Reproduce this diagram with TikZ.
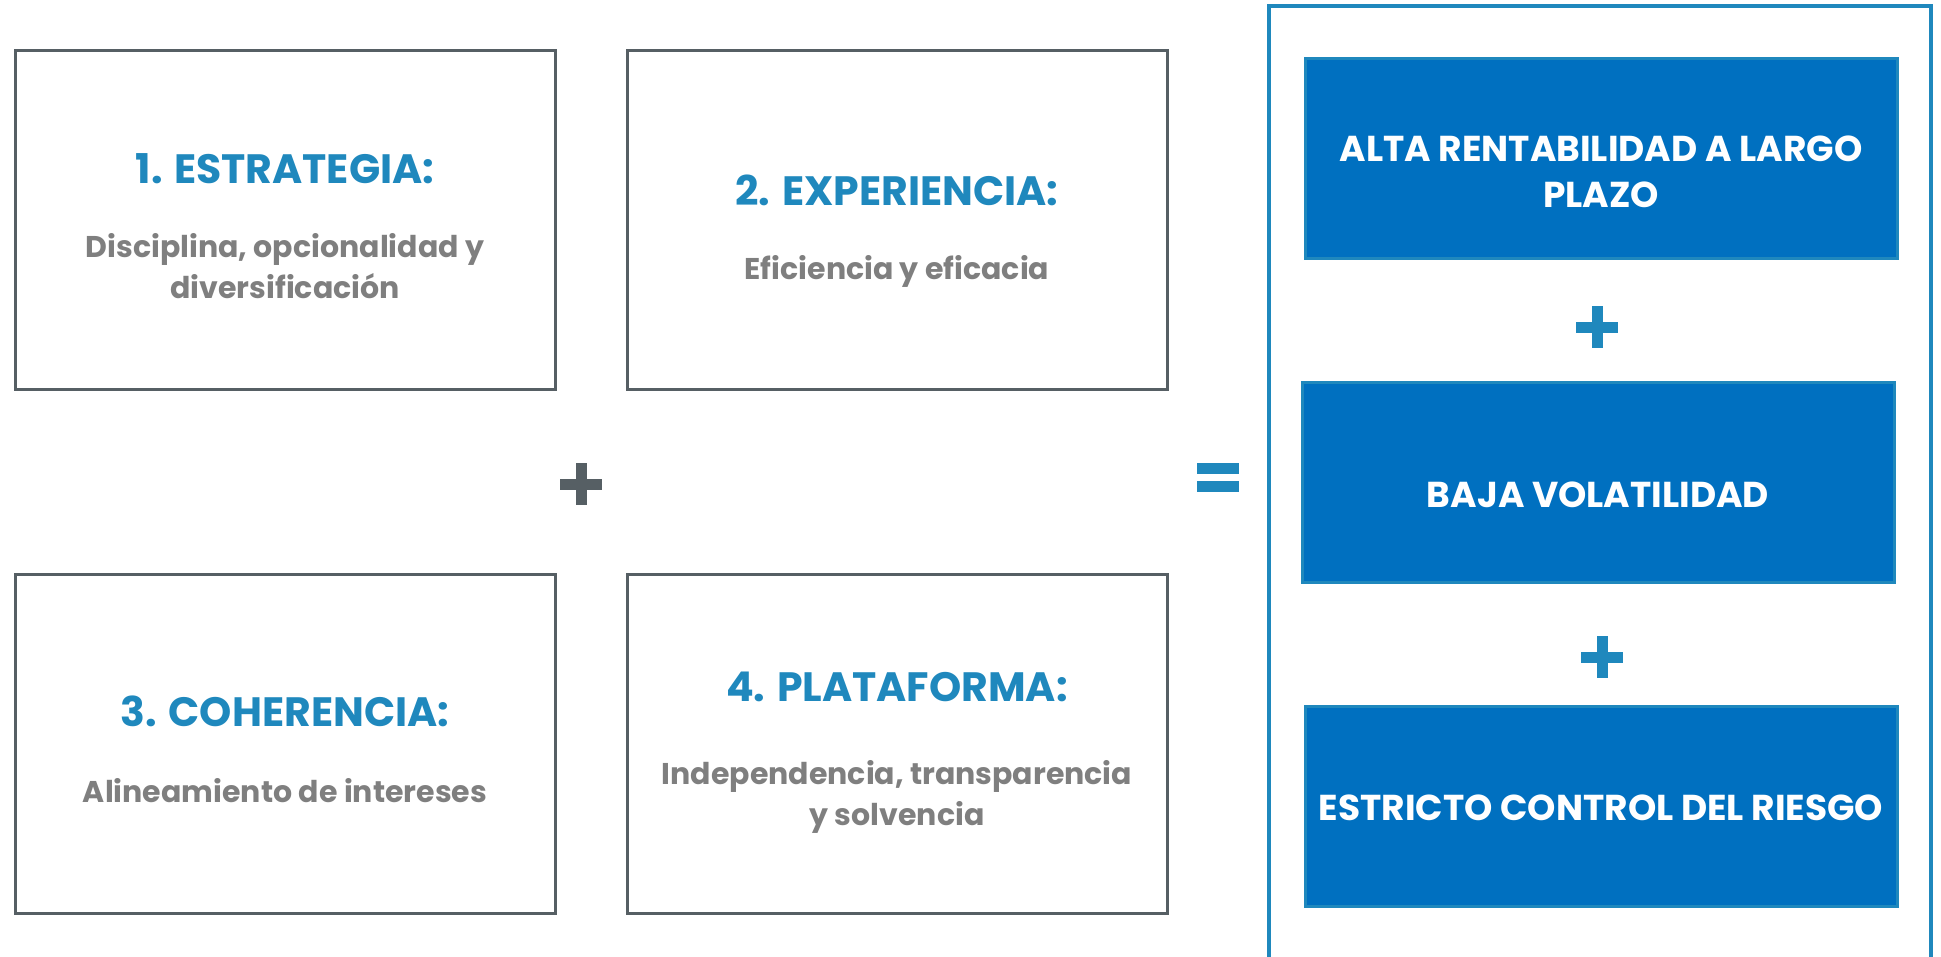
\documentclass[tikz,border=0pt]{standalone}
\usepackage{fontspec}
\setmainfont{Poppins}
\usepackage{tikz}
\usetikzlibrary{positioning}

\definecolor{ttlblue}{HTML}{1F88BD}
\definecolor{subgray}{HTML}{7F7F7F}
\definecolor{edgegray}{HTML}{565F64}
\definecolor{resblue}{HTML}{0070C0}

\begin{document}
\begin{tikzpicture}[x=1pt, y=-1pt,
  cell/.style={draw=edgegray, line width=3pt, minimum width=540pt,
               minimum height=339pt, inner sep=0pt},
  txt/.style={align=center, text=subgray, inner sep=0pt,
              font=\fontsize{30}{41}\selectfont\bfseries},
  res/.style={draw=ttlblue, fill=resblue, line width=3pt, minimum width=592pt,
              minimum height=200pt},
  restxt/.style={align=center, text=white, inner sep=0pt,
                 font=\fontsize{36}{46}\selectfont\bfseries},
  sgn/.style={line width=11pt}
]
\useasboundingbox (0,0) rectangle (1941,956);
% Factor boxes
\node[cell] (c1) at (285,220) {};
\node[cell] (c2) at (897,220) {};
\node[cell] (c3) at (285,744) {};
\node[cell] (c4) at (897,744) {};
\node[txt] (t1) at ([yshift=-6pt]c1.center)
  {\textcolor{ttlblue}{\fontsize{41}{46}\selectfont 1. ESTRATEGIA:}\\[33pt]
   Disciplina, opcionalidad y\\diversificación};
\node[txt] (t2) at ([yshift=-11pt]c2.center)
  {\textcolor{ttlblue}{\fontsize{41}{46}\selectfont 2. EXPERIENCIA:}\\[33pt]
   Eficiencia y eficacia};
\node[txt] (t3) at ([yshift=-5pt]c3.center)
  {\textcolor{ttlblue}{\fontsize{41}{46}\selectfont 3. COHERENCIA:}\\[35pt]
   Alineamiento de intereses};
\node[txt] (t4) at ([yshift=-9pt]c4.center)
  {\textcolor{ttlblue}{\fontsize{41}{46}\selectfont 4. PLATAFORMA:}\\[42pt]
   Independencia, transparencia\\y solvencia};
% Signs
\draw[sgn, draw=edgegray] (560,484) -- (602,484) (581,463) -- (581,505);
\draw[sgn, draw=ttlblue] (1197,468) -- (1239,468) (1197,486) -- (1239,486);
% Result frame
\draw[draw=ttlblue, line width=4pt] (1269,970) -- (1269,6) -- (1931,6) -- (1931,970);
\node[res] (r1) at (1601,158) {};
\node[res] (r2) at (1598,482) {};
\node[res] (r3) at (1601,806) {};
\node[restxt] at ([yshift=-14pt]r1.center) {ALTA RENTABILIDAD A LARGO\\PLAZO};
\node[restxt] at ([yshift=-13pt]r2.center) {BAJA VOLATILIDAD};
\node[restxt] at ([yshift=-2pt]r3.center) {ESTRICTO CONTROL DEL RIESGO};
\draw[sgn, draw=ttlblue] (1576,327) -- (1618,327) (1597,306) -- (1597,348);
\draw[sgn, draw=ttlblue] (1581,657) -- (1623,657) (1602,636) -- (1602,678);
\end{tikzpicture}
\end{document}
